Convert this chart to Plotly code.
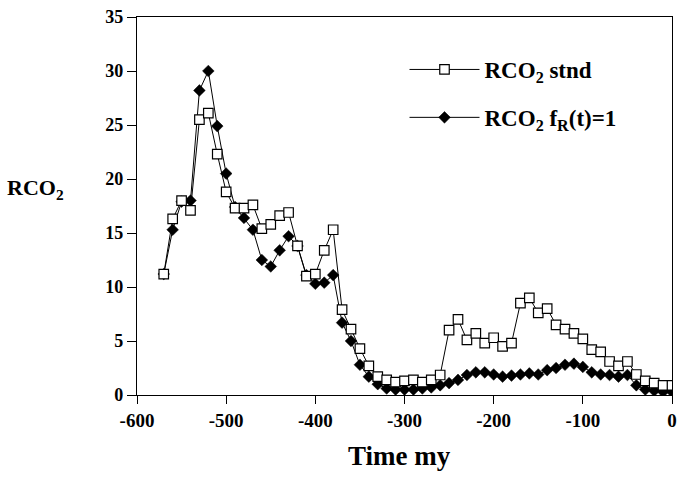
import plotly.graph_objects as go

time_my = list(range(-570, 1, 10))

rco2_stnd = [11.2, 16.3, 18.0, 17.1, 25.5, 26.1, 22.3, 18.8, 17.3, 17.3,
             17.6, 15.4, 15.8, 16.6, 16.9, 13.8, 11.0, 11.2, 13.4, 15.3,
             7.9, 6.1, 4.3, 2.7, 1.7, 1.4, 1.2, 1.3, 1.4, 1.2,
             1.4, 1.85, 6.0, 7.0, 5.1, 5.7, 4.8, 5.3, 4.5, 4.8,
             8.5, 9.0, 7.6, 8.0, 6.5, 6.1, 5.7, 5.2, 4.2, 4.0,
             3.1, 2.7, 3.1, 1.9, 1.3, 1.1, 0.9, 0.9]

rco2_fr1 = [11.2, 15.3, 17.9, 18.0, 28.2, 30.0, 24.9, 20.5, 17.4, 16.4,
            15.3, 12.5, 11.9, 13.4, 14.7, 13.8, 11.1, 10.3, 10.4, 11.1,
            6.7, 5.0, 2.8, 1.7, 1.0, 0.6, 0.5, 0.5, 0.5, 0.6,
            0.7, 0.9, 1.1, 1.4, 1.85, 2.1, 2.1, 1.9, 1.7, 1.8,
            1.9, 2.0, 1.9, 2.3, 2.5, 2.8, 2.9, 2.6, 2.1, 1.9,
            1.85, 1.7, 1.85, 0.9, 0.5, 0.4, 0.3, 0.3]

x_ticks = [-600, -500, -400, -300, -200, -100, 0]
x_tick_labels = ["-600", "-500", "-400", "-300", "-200", "-100", "0"]
y_ticks = [0, 5, 10, 15, 20, 25, 30, 35]

FONT = "Liberation Serif"

fig = go.Figure()
fig.add_trace(go.Scatter(
    x=time_my, y=rco2_fr1, mode="lines+markers",
    name="RCO<sub>2</sub> f<sub>R</sub>(t)=1",
    line=dict(color="black", width=1),
    marker=dict(symbol="diamond", size=9, color="black",
                line=dict(color="black", width=0.5)),
    legendrank=2, legendgroup="b",
))
fig.add_trace(go.Scatter(
    x=time_my, y=rco2_stnd, mode="lines+markers",
    name="RCO<sub>2</sub> stnd",
    line=dict(color="black", width=1),
    marker=dict(symbol="square", size=9.5, color="white",
                line=dict(color="black", width=1.2)),
    legendrank=1, legendgroup="a",
))

tickfont = dict(family=FONT, size=19, weight="bold", color="black")

fig.update_layout(
    width=681, height=496,
    margin=dict(l=137, r=4, t=17, b=101),
    plot_bgcolor="white", paper_bgcolor="white",
    font=dict(family=FONT, color="black", size=18, weight="bold"),
    showlegend=True,
    legend=dict(x=0.5, y=0.918, xanchor="left", yanchor="top",
                bgcolor="rgba(0,0,0,0)", itemwidth=70, tracegroupgap=15,
                font=dict(family=FONT, size=23, weight="bold", color="black")),
    xaxis=dict(range=[-600, 0], tickvals=x_ticks, ticktext=x_tick_labels,
               showgrid=False, zeroline=False, ticklabeloverflow="allow",
               showline=True, linecolor="black", linewidth=1.3, mirror=True,
               ticks="outside", ticklen=8, tickcolor="black", tickwidth=1.3,
               tickfont=tickfont),
    yaxis=dict(range=[0, 35], tickvals=y_ticks, showgrid=False, zeroline=False,
               showline=True, linecolor="black", linewidth=1.3, mirror=True,
               ticks="outside", ticklen=9, tickcolor="black", tickwidth=1.3,
               tickfont=dict(family=FONT, size=18, weight="bold", color="black")),
    annotations=[
        dict(text="RCO<sub>2</sub>", xref="paper", yref="paper",
             x=-0.19, y=0.545, xanchor="center", yanchor="middle", showarrow=False,
             font=dict(family=FONT, size=22, weight="bold", color="black")),
        dict(text="Time my", xref="paper", yref="paper",
             x=0.49, y=-0.162, xanchor="center", yanchor="middle", showarrow=False,
             font=dict(family=FONT, size=27, weight="bold", color="black")),
    ],
)

fig.write_html("out.html")
